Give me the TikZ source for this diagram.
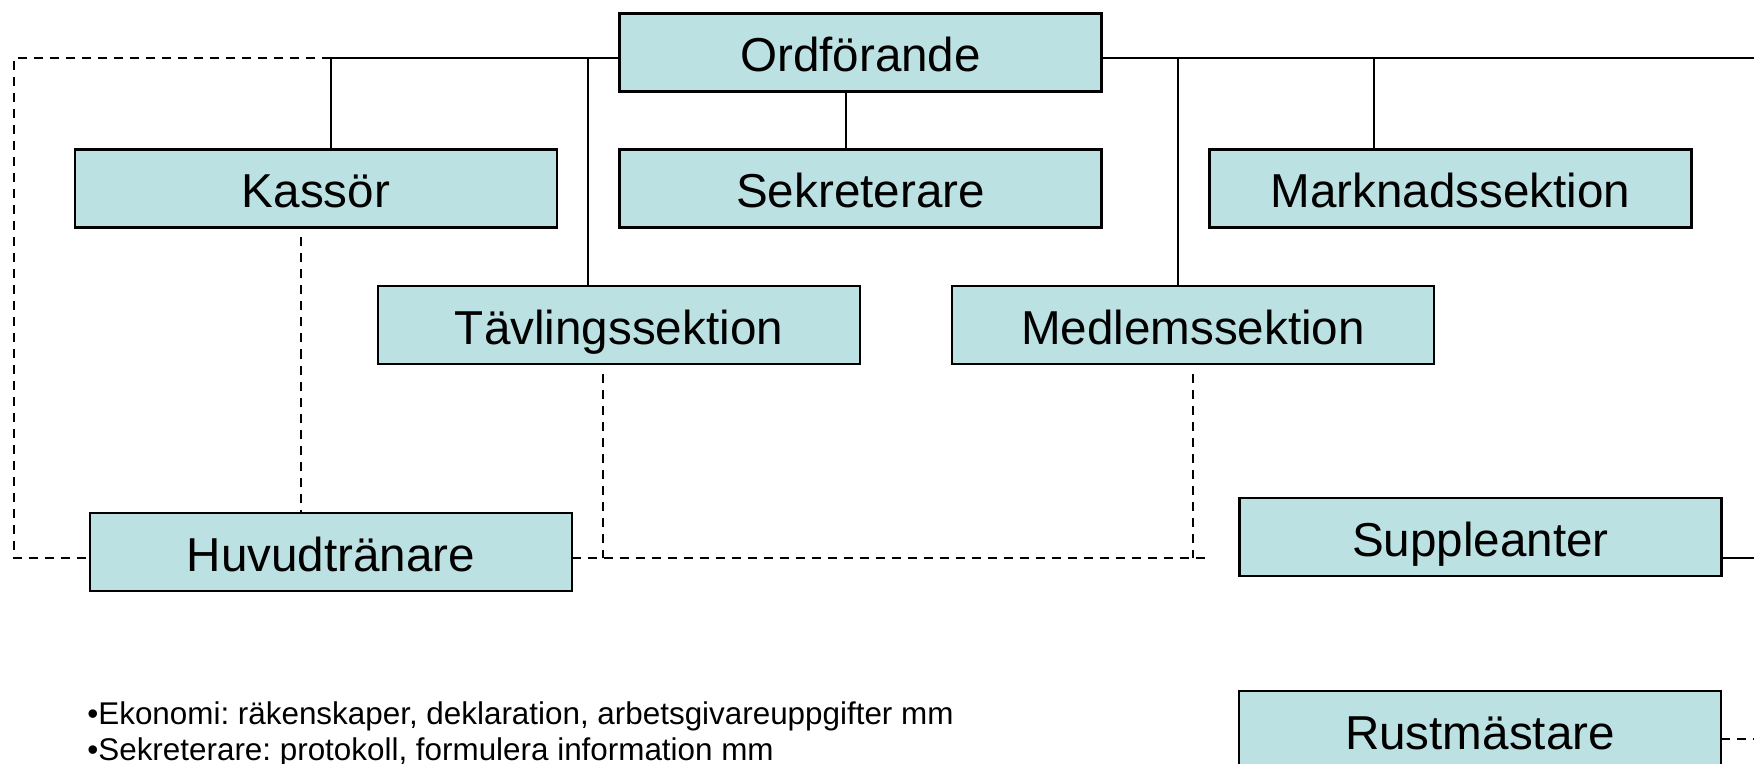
\documentclass[tikz,border=0pt]{standalone}
\usepackage{fontspec}
\setmainfont{Liberation Sans}
\frenchspacing
\definecolor{boxfill}{RGB}{188,225,227}
\tikzset{
  orgbox/.style={draw=black, line width=1.3pt, fill=boxfill, minimum width=241pt, minimum height=39pt, inner sep=0pt, outer sep=0pt, text height=19.5pt, text depth=0pt, font=\fontsize{23.8}{28}\selectfont},
  solidline/.style={draw=black, line width=1pt},
  dashline/.style={draw=black, line width=1pt, dash pattern=on 4.5pt off 3.5pt},
  note/.style={anchor=base west, inner sep=0pt, font=\fontsize{15.7}{18}\selectfont}
}
\begin{document}
\begin{tikzpicture}[x=0.5pt,y=-0.5pt]
\useasboundingbox (0,0) rectangle (1754,764);
\fill[white] (0,0) rectangle (1754,764);
\clip (0,0) rectangle (1754,764);
% junction coordinates
\coordinate (tl) at (14,58);
\coordinate (bl) at (14,558);
\coordinate (kj) at (331,58);
\coordinate (tj) at (588,58);
\coordinate (mj) at (1178,58);
\coordinate (nj) at (1374,58);
\coordinate (tr) at (1754,58);
\coordinate (dj) at (1209,558);
\coordinate (sr) at (1754,558);
\coordinate (rr) at (1754,739);
% solid spine
\draw[solidline] (kj) -- (tr);
% boxes
\node[orgbox] (ord) at (860.5,52.5) {Ordförande};
\node[orgbox] (kas) at (316,188.5) {Kassör};
\node[orgbox] (sek) at (860.5,188.5) {Sekreterare};
\node[orgbox] (mar) at (1450.5,188.5) {Marknadssektion};
\node[orgbox] (tav) at (619,325) {Tävlingssektion};
\node[orgbox] (med) at (1193,325) {Medlemssektion};
\node[orgbox] (huv) at (331,552) {Huvudtränare};
\node[orgbox] (sup) at (1480.5,537) {Suppleanter};
\node[orgbox] (rus) at (1480,730) {Rustmästare};
% solid branches
\draw[solidline] (kj) -- (kj |- kas.north);
\draw[solidline] (tj) -- (tj |- tav.north);
\draw[solidline] (mj) -- (mj |- med.north);
\draw[solidline] (nj) -- (nj |- mar.north);
\draw[solidline] (846,0 |- ord.south) -- (846,0 |- sek.north);
\draw[solidline] (sup.east |- sr) -- (sr);
% dashed links
\draw[dashline] (kj) -- (tl) -- (bl) -- (huv.west |- bl);
\draw[dashline] (huv.east |- bl) -- (dj);
\draw[dashline, shorten <=5pt] (301,0 |- kas.south) -- (301,0 |- huv.north);
\draw[dashline, shorten <=5pt] (603,0 |- tav.south) -- (603,558);
\draw[dashline, shorten <=5pt] (med.south) -- (1193,558);
\draw[dashline] (rus.east |- rr) -- (rr);
% notes
\node[note] (n1) at (87,724) {•Ekonomi: räkenskaper, deklaration, arbetsgivareuppgifter mm};
\node[note] (n2) at (87,760) {•Sekreterare: protokoll, formulera information mm};
\end{tikzpicture}
\end{document}
